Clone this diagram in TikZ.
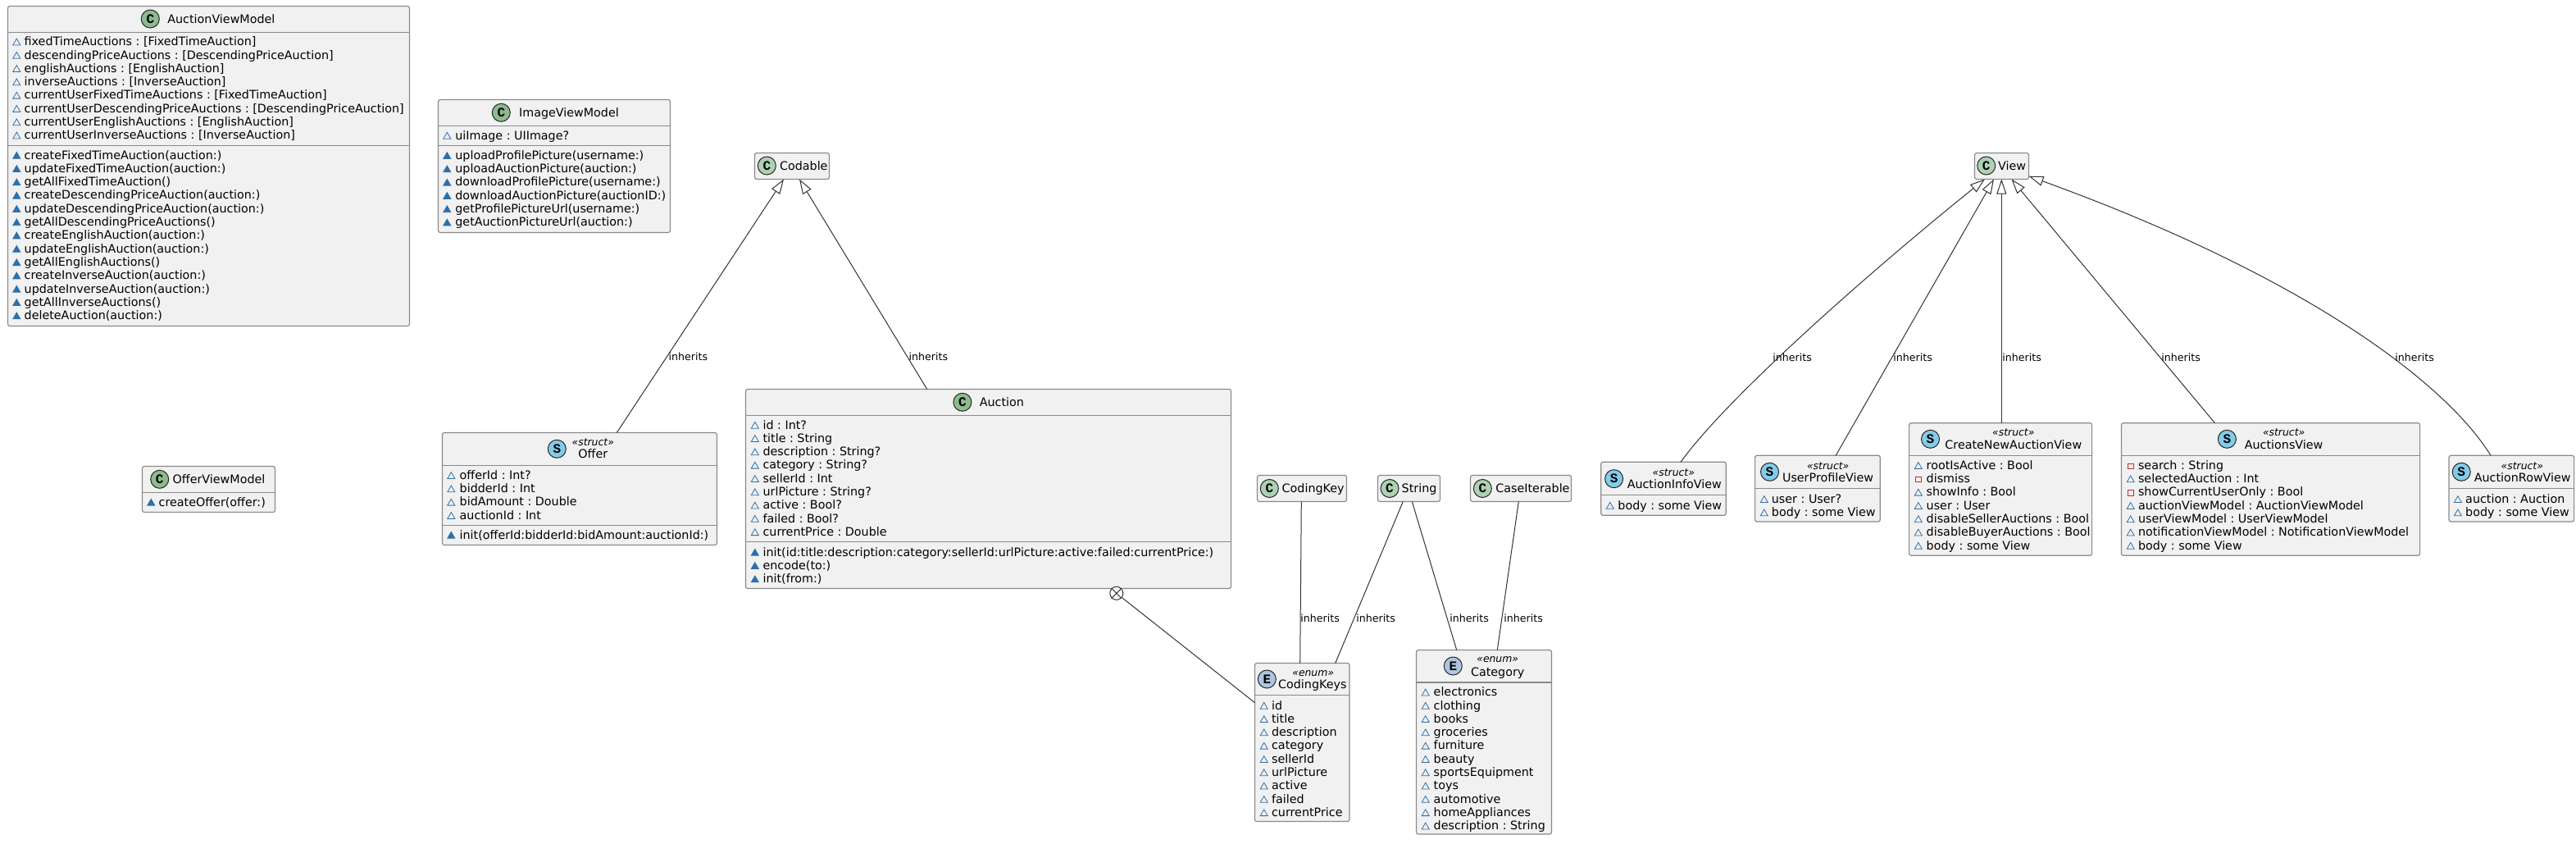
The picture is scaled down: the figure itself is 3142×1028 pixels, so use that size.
\documentclass[tikz,border=0pt]{standalone}
\usepackage{fontspec}
\setmainfont{DejaVu Sans}
\newfontfamily\markfont{Liberation Mono}
\usetikzlibrary{shapes.geometric, arrows.meta, fit}
\definecolor{boxfill}{HTML}{F1F1F1}
\definecolor{boxline}{HTML}{8A8A8A}
\definecolor{edgeline}{HTML}{333333}
\definecolor{markblue}{HTML}{2F6FAA}
\definecolor{markred}{HTML}{C82930}
\definecolor{ownclass}{HTML}{8DBB8E}
\definecolor{extclass}{HTML}{ADD1B2}
\definecolor{structmark}{HTML}{84CBEA}
\definecolor{enummark}{HTML}{B0C4DE}
\tikzset{
	classbox/.style={rectangle, rounded corners=1.25pt, draw=boxline, fill=boxfill, line width=.6pt, inner sep=0pt, outer sep=0pt},
	divider/.style={draw=boxline, line width=.6pt},
	badge/.style={circle, draw=black!85, line width=.5pt, minimum size=11pt, inner sep=0pt, font=\markfont\bfseries\fontsize{8}{8}\selectfont},
	ownbadge/.style={badge, fill=ownclass},
	extbadge/.style={badge, fill=extclass},
	structbadge/.style={badge, fill=structmark},
	enumbadge/.style={badge, fill=enummark},
	classname/.style={anchor=base west, inner sep=0pt, yshift=-2.5pt, font=\fontsize{7.15}{8}\selectfont},
	stereoname/.style={anchor=base, inner sep=0pt, yshift=-2.5pt, font=\fontsize{7.15}{8}\selectfont},
	stereotag/.style={anchor=base, inner sep=0pt, yshift=-2pt, font=\itshape\fontsize{6.2}{7}\selectfont},
	rowtext/.style={anchor=base west, inner sep=0pt, yshift=-2.5pt, font=\fontsize{7.15}{8}\selectfont},
	fld/.style={regular polygon, regular polygon sides=3, draw=markblue, line width=.4pt, minimum size=5.2pt, inner sep=0pt, yshift=-.8pt},
	mth/.style={fld, fill=markblue},
	prv/.style={rectangle, draw=markred, line width=.4pt, minimum size=3.2pt, inner sep=0pt, yshift=-.5pt},
	inheritlabel/.style={anchor=base west, inner sep=0pt, yshift=-2.2pt, font=\fontsize{6.3}{7}\selectfont},
	edge/.style={draw=edgeline, line width=.5pt},
	inherit/.style={edge, {Triangle[open, fill=white, length=9pt, width=6pt, line width=.5pt]}-},
	nested/.style={circle, draw=edgeline, fill=white, line width=.5pt, minimum size=8pt, inner sep=0pt}
}
% box name, corners, y of the dividers
\newcommand{\umlbox}[6]{
	\node (#1) [classbox, fit={(#2,#3) (#4,#5)}] {};
	\foreach \sy in {#6} \draw [divider] (#2,\sy) -- (#4,\sy);
}
% prefix, x of marker, x of text, y of first row, rows
\newcommand{\umlrows}[5]{
	\foreach \mk/\txt [count=\i] in {#5} {
		\node (#1mark\i) [\mk] at (#2,{#4+16.3*(\i-1)}) {};
		\node (#1text\i) [rowtext] at (#3,{#4+16.3*(\i-1)}) {\txt};
	}
}
\begin{document}
\frenchspacing
\begin{tikzpicture}[x=.5pt, y=-.5pt]
	\useasboundingbox (0,0) rectangle (3142,1028);

	% view models
	\umlbox{auctionvm}{9.5}{7.5}{499.5}{397.5}{39.5,177.5}
	\node (auctionvmbadge) [ownbadge] at (183.3,23) {C};
	\node (auctionvmname) [classname] at (204,23) {AuctionViewModel};
	\umlrows{auctionvmf}{20.3}{29.3}{50.7}{fld/fixedTimeAuctions : [FixedTimeAuction], fld/descendingPriceAuctions : [DescendingPriceAuction], fld/englishAuctions : [EnglishAuction], fld/inverseAuctions : [InverseAuction], fld/currentUserFixedTimeAuctions : [FixedTimeAuction], fld/currentUserDescendingPriceAuctions : [DescendingPriceAuction], fld/currentUserEnglishAuctions : [EnglishAuction], fld/currentUserInverseAuctions : [InverseAuction]}
	\umlrows{auctionvmm}{20.3}{29.3}{189}{mth/createFixedTimeAuction(auction:), mth/updateFixedTimeAuction(auction:), mth/getAllFixedTimeAuction(), mth/createDescendingPriceAuction(auction:), mth/updateDescendingPriceAuction(auction:), mth/getAllDescendingPriceAuctions(), mth/createEnglishAuction(auction:), mth/updateEnglishAuction(auction:), mth/getAllEnglishAuctions(), mth/createInverseAuction(auction:), mth/updateInverseAuction(auction:), mth/getAllInverseAuctions(), mth/deleteAuction(auction:)}

	\umlbox{imagevm}{534.5}{121.5}{817.5}{283.5}{153.5,177.5}
	\node (imagevmbadge) [ownbadge] at (611.3,137.3) {C};
	\node (imagevmname) [classname] at (632.7,137.3) {ImageViewModel};
	\umlrows{imagevmf}{545.3}{555}{165}{fld/uiImage : UIImage?}
	\umlrows{imagevmm}{545.3}{555}{189.3}{mth/uploadProfilePicture(username:), mth/uploadAuctionPicture(auction:), mth/downloadProfilePicture(username:), mth/downloadAuctionPicture(auctionID:), mth/getProfilePictureUrl(username:), mth/getAuctionPictureUrl(auction:)}

	\umlbox{offervm}{173.5}{568.5}{335.5}{624.5}{600.5}
	\node (offervmbadge) [ownbadge] at (194.7,584.3) {C};
	\node (offervmname) [classname] at (210.3,584.3) {OfferViewModel};
	\umlrows{offervmm}{184.3}{193.3}{612}{mth/createOffer(offer:)}

	% model
	\umlbox{codable}{920.5}{186.5}{1011.5}{218.5}{}
	\node (codablebadge) [extbadge] at (935.3,202) {C};
	\node (codablename) [classname] at (950.7,202) {Codable};

	\umlbox{offer}{539.5}{527.5}{874.5}{664.5}{567.5,640.5}
	\node (offerbadge) [structbadge] at (679.3,547.3) {S};
	\node (offertag) [stereotag] at (723.3,539) {«struct»};
	\node (offername) [stereoname] at (723.3,553.7) {Offer};
	\umlrows{offerf}{550.3}{560.3}{579.3}{fld/offerId : Int?, fld/bidderId : Int, fld/bidAmount : Double, fld/auctionId : Int}
	\umlrows{offerm}{550.3}{560.3}{652}{mth/init(offerId:bidderId:bidAmount:auctionId:)}

	\umlbox{auction}{909.5}{474.5}{1501.5}{717.5}{506.5,660.5}
	\node (auctionbadge) [ownbadge] at (1173.9,490.3) {C};
	\node (auctionname) [classname] at (1194.4,490.3) {Auction};
	\umlrows{auctionf}{920.8}{930.2}{518}{fld/id : Int?, fld/title : String, fld/description : String?, fld/category : String?, fld/sellerId : Int, fld/urlPicture : String?, fld/active : Bool?, fld/failed : Bool?, fld/currentPrice : Double}
	\umlrows{auctionm}{920.8}{930.2}{673}{mth/init(id:title:description:category:sellerId:urlPicture:active:failed:currentPrice:), mth/encode(to:), mth/init(from:)}

	\umlbox{codingkey}{1533.5}{579.5}{1642.5}{611.5}{}
	\node (codingkeybadge) [extbadge] at (1548.3,595.5) {C};
	\node (codingkeyname) [classname] at (1563.3,595.5) {CodingKey};

	\umlbox{string}{1680.5}{579.5}{1756.5}{611.5}{}
	\node (stringbadge) [extbadge] at (1695,595.5) {C};
	\node (stringname) [classname] at (1709.3,595.5) {String};

	\umlbox{caseiterable}{1793.5}{579.5}{1916.5}{611.5}{}
	\node (caseiterablebadge) [extbadge] at (1808.3,595.5) {C};
	\node (caseiterablename) [classname] at (1824,595.5) {CaseIterable};

	\umlbox{codingkeys}{1530.5}{808.5}{1646}{1001.5}{847.5}
	\node (codingkeysbadge) [enumbadge] at (1545.3,828) {E};
	\node (codingkeystag) [stereotag] at (1601.7,820) {«enum»};
	\node (codingkeysname) [stereoname] at (1600.8,834.7) {CodingKeys};
	\umlrows{codingkeysf}{1541.7}{1550.7}{860}{fld/id, fld/title, fld/description, fld/category, fld/sellerId, fld/urlPicture, fld/active, fld/failed, fld/currentPrice}

	\umlbox{category}{1727.5}{792.5}{1892.5}{1017}{832}
	\node (categorybadge) [enumbadge] at (1772.3,812) {E};
	\node (categorytag) [stereotag] at (1826.7,803.7) {«enum»};
	\node (categoryname) [stereoname] at (1826.7,819) {Category};
	\umlrows{categoryf}{1738.7}{1748.3}{843.7}{fld/electronics, fld/clothing, fld/books, fld/groceries, fld/furniture, fld/beauty, fld/sportsEquipment, fld/toys, fld/automotive, fld/homeAppliances, fld/description : String}

	% views
	\umlbox{view}{2408.5}{186.5}{2474.5}{218.5}{}
	\node (viewbadge) [extbadge] at (2422.7,202) {C};
	\node (viewname) [classname] at (2436.8,202) {View};

	\umlbox{infoview}{1952.7}{563.3}{2105.3}{628.3}{603.3}
	\node (infoviewbadge) [structbadge] at (1968.6,583.7) {S};
	\node (infoviewtag) [stereotag] at (2041.3,576) {«struct»};
	\node (infoviewname) [stereoname] at (2042.3,590.3) {AuctionInfoView};
	\umlrows{infoviewf}{1963.8}{1973}{616}{fld/body : some View}

	\umlbox{profileview}{2140.6}{555.3}{2293.3}{636}{595.7}
	\node (profileviewbadge) [structbadge] at (2158.5,575.3) {S};
	\node (profileviewtag) [stereotag] at (2229.7,568) {«struct»};
	\node (profileviewname) [stereoname] at (2229.5,582.3) {UserProfileView};
	\umlrows{profileviewf}{2151.8}{2160.5}{608.3}{fld/user : User?, fld/body : some View}

	\umlbox{createview}{2328.6}{515.7}{2551.6}{677.3}{555.3}
	\node (createviewbadge) [structbadge] at (2354.5,535.3) {S};
	\node (createviewtag) [stereotag] at (2455.8,527.3) {«struct»};
	\node (createviewname) [stereoname] at (2455.8,542.3) {CreateNewAuctionView};
	\umlrows{createviewf}{2339.8}{2349.3}{567.3}{fld/rootIsActive : Bool, prv/dismiss, fld/showInfo : Bool, fld/user : User, fld/disableSellerAuctions : Bool, fld/disableBuyerAuctions : Bool, fld/body : some View}

	\umlbox{auctionsview}{2587.5}{515.7}{2951.6}{677.3}{555.3}
	\node (auctionsviewbadge) [structbadge] at (2716.4,535.3) {S};
	\node (auctionsviewtag) [stereotag] at (2785.6,527.3) {«struct»};
	\node (auctionsviewname) [stereoname] at (2785.6,542.3) {AuctionsView};
	\umlrows{auctionsviewf}{2598.7}{2607.6}{567.3}{prv/search : String, fld/selectedAuction : Int, prv/showCurrentUserOnly : Bool, fld/auctionViewModel : AuctionViewModel, fld/userViewModel : UserViewModel, fld/notificationViewModel : NotificationViewModel, fld/body : some View}

	\umlbox{rowview}{2987}{555.3}{3139.6}{636}{595.7}
	\node (rowviewbadge) [structbadge] at (3002.2,575.3) {S};
	\node (rowviewtag) [stereotag] at (3076.3,568) {«struct»};
	\node (rowviewname) [stereoname] at (3076.7,582.3) {AuctionRowView};
	\umlrows{rowviewf}{2997.9}{3006.8}{608.3}{fld/auction : Auction, fld/body : some View}

	% connectors, x offsets in pixels from the corner of each box
	\draw [inherit] ([shift={(35.5,0)}]codable.south west) -- ([shift={(212.8,0)}]offer.north west);
	\draw [inherit] ([shift={(54.5,0)}]codable.south west) -- ([shift={(221.2,0)}]auction.north west);

	\node (nest) [nested] at ([shift={(452.3,5.8)}]auction.south west) {};
	\draw [edge] (nest.45) -- (nest.225) (nest.135) -- (nest.315);
	\draw [edge] (nest) -- ([shift={(0,48.2)}]codingkeys.north west);

	\draw [edge] ([shift={(53.8,0)}]codingkey.south west) -- ([shift={(55.2,0)}]codingkeys.north west);
	\draw [edge] ([shift={(30.8,0)}]string.south west) -- ([shift={(98.2,0)}]codingkeys.north west);
	\draw [edge] ([shift={(41.8,0)}]string.south west) -- ([shift={(49.2,0)}]category.north west);
	\draw [edge] ([shift={(58.8,0)}]caseiterable.south west) -- ([shift={(98.8,0)}]category.north west);

	\draw [inherit] ([shift={(12.3,0)}]view.south west) .. controls (2270,340) and (2105,487) .. ([shift={(97.3,0)}]infoview.north west);
	\draw [inherit] ([shift={(23.5,0)}]view.south west) -- ([shift={(98.6,0)}]profileview.north west);
	\draw [inherit] ([shift={(32.8,0)}]view.south west) -- ([shift={(112.7,0)}]createview.north west);
	\draw [inherit] ([shift={(45,0)}]view.south west) -- ([shift={(113.9,0)}]auctionsview.north west);
	\draw [inherit] ([shift={(0,-3.8)}]view.south east) .. controls (2820,340) and (2985,470) .. ([shift={(51,0)}]rowview.north west);

	\foreach \lx/\ly [count=\i] in {815.3/435.3, 1108.3/435.3, 1586/754, 1654/754, 1768/754, 1834/754, 2162/435.7, 2309/435.7, 2442/435.7, 2636/435.7, 2921/435.7}
		\node (inherits\i) [inheritlabel] at (\lx,\ly) {inherits};
\end{tikzpicture}
\end{document}
